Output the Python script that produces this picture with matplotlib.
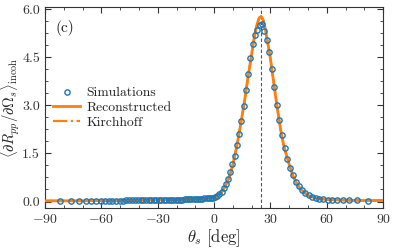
import numpy as np
import matplotlib
matplotlib.use("Agg")
import matplotlib.pyplot as plt
from matplotlib.ticker import MultipleLocator, AutoMinorLocator

plt.rcParams['font.family'] = 'serif'
plt.rcParams['font.serif'] = ['cmr10']
plt.rcParams['mathtext.fontset'] = 'cm'
plt.rcParams['axes.formatter.use_mathtext'] = True
plt.rcParams['axes.unicode_minus'] = True

# Simulation sample angles (deg) and values
sim_theta = [-81.89, -75.93, -71.81, -68.43, -65.51, -62.87, -60.46, -58.21, -56.10, -54.10,
             -52.19, -50.35, -48.59, -46.89, -45.23, -43.63, -42.07, -40.54, -39.05, -37.59,
             -36.16, -34.75, -33.37, -32.01, -30.66, -29.34, -28.04, -26.74, -25.47, -24.20,
             -22.95, -21.72, -20.49, -19.27, -18.06, -16.86, -15.66, -14.48, -13.30, -12.12,
             -10.95, -9.79, -8.63, -7.47, -6.32, -5.16, -4.01, -2.87, -1.72, -0.57,
             0.57, 1.72, 2.87, 4.01, 5.16, 6.32, 7.47, 8.63, 9.79, 10.95,
             12.12, 13.30, 14.48, 15.66, 16.86, 18.06, 19.27, 20.49, 21.72, 22.95,
             24.20, 25.47, 26.74, 28.04, 29.34, 30.66, 32.01, 33.37, 34.75, 36.16,
             37.59, 39.05, 40.54, 42.07, 43.63, 45.23, 46.89, 48.59, 50.35, 52.19,
             54.10, 56.10, 58.21, 60.46, 62.87, 65.51, 68.43, 71.81, 75.93, 81.89]
sim_vals = [0.03, 0.03, 0.03, 0.03, 0.03, 0.03, 0.03, 0.03, 0.03, 0.03,
            0.03, 0.03, 0.03, 0.035, 0.035, 0.035, 0.035, 0.04, 0.04, 0.04,
            0.04, 0.04, 0.045, 0.045, 0.045, 0.045, 0.05, 0.05, 0.05, 0.05,
            0.055, 0.055, 0.055, 0.06, 0.06, 0.06, 0.065, 0.065, 0.07, 0.07,
            0.075, 0.08, 0.08, 0.085, 0.09, 0.095, 0.10, 0.105, 0.11, 0.12,
            0.13, 0.17, 0.22, 0.31, 0.42, 0.55, 0.71, 0.92, 1.17, 1.42,
            1.75, 2.12, 2.52, 2.98, 3.47, 3.98, 4.48, 4.92, 5.18, 5.35,
            5.50, 5.52, 5.32, 5.05, 4.65, 4.12, 3.58, 3.02, 2.55, 2.08,
            1.68, 1.33, 1.05, 0.82, 0.62, 0.47, 0.35, 0.26, 0.19, 0.14,
            0.11, 0.09, 0.07, 0.06, 0.05, 0.05, 0.04, 0.04, 0.04, 0.03]

# Reconstructed / Kirchhoff curve
curve_theta = [-90, -80, -70, -60, -50, -40, -30, -20, -15, -10, -5, 0, 2, 4, 6, 8, 10, 12, 14, 16,
               18, 20, 21, 22, 23, 24, 25, 26, 27, 28, 29, 30, 31, 32, 33, 34, 35, 36, 37, 38,
               40, 42, 44, 46, 48, 50, 55, 60, 70, 80, 90]
curve_vals = [0.02, 0.02, 0.02, 0.03, 0.03, 0.04, 0.05, 0.06, 0.07, 0.08, 0.10, 0.14, 0.20, 0.30, 0.48, 0.75, 1.15, 1.70, 2.35, 3.05,
              3.85, 4.60, 4.98, 5.30, 5.55, 5.72, 5.77, 5.68, 5.45, 5.12, 4.80, 4.45, 4.02, 3.60, 3.18, 2.78, 2.40, 2.05, 1.78, 1.55,
              1.15, 0.80, 0.56, 0.40, 0.28, 0.19, 0.09, 0.06, 0.04, 0.03, 0.03]
kirch_theta = curve_theta
kirch_vals = curve_vals

specular = 25

fig = plt.figure(figsize=(3.95, 2.49), dpi=100)
ax = fig.add_axes([0.114, 0.165, 0.856, 0.805])

ax.axvline(specular, color='#555555', ls='--', lw=0.8, dashes=(3, 2), zorder=1)
ax.plot(kirch_theta, kirch_vals, color='#ff7f0e', ls='-.', lw=1.6, zorder=2, label='Kirchhoff')
ax.plot(curve_theta, curve_vals, color='#ff7f0e', ls='-', lw=2.0, zorder=3, label='Reconstructed')
ax.plot(sim_theta, sim_vals, ls='none', marker='o', ms=3.8, mfc='none', mec='#1f77b4', mew=1.0,
        zorder=4, label='Simulations')

ax.set_xlim(-90, 90)
ax.set_ylim(-0.2, 6.05)
ax.xaxis.set_major_locator(MultipleLocator(30))
ax.xaxis.set_minor_locator(MultipleLocator(10))
ax.yaxis.set_major_locator(MultipleLocator(1.5))
ax.yaxis.set_minor_locator(AutoMinorLocator(4))
ax.tick_params(which='both', direction='in', top=True, right=True, colors='#333333', labelsize=10)
ax.tick_params(which='major', length=4, width=0.8)
ax.tick_params(which='minor', length=2, width=0.6)
for s in ax.spines.values():
    s.set_color('#333333')
    s.set_linewidth(0.8)
ax.yaxis.set_major_formatter(matplotlib.ticker.FormatStrFormatter('%.1f'))

ax.set_xlabel(r'$\theta_s\ [\mathrm{deg}]$', fontsize=12, color='#222222', labelpad=1)
ax.set_ylabel(r'$\langle \partial R_{pp}/\partial \Omega_s\rangle_{\mathrm{incoh}}$', fontsize=10.5,
              color='#222222')
ax.yaxis.set_label_coords(-0.067, 0.5)
ax.text(0.03, 0.90, '(c)', transform=ax.transAxes, fontsize=11, color='#222222', va='center')

h, l = ax.get_legend_handles_labels()
order = [2, 1, 0]
leg = ax.legend([h[i] for i in order], [l[i] for i in order], loc='center left',
                bbox_to_anchor=(0.0, 0.50), frameon=False, fontsize=9.8, handlelength=2.0,
                handletextpad=0.45, labelspacing=0.15, borderaxespad=0.2)
for t in leg.get_texts():
    t.set_color('#222222')

fig.savefig('out.png', dpi=100)
